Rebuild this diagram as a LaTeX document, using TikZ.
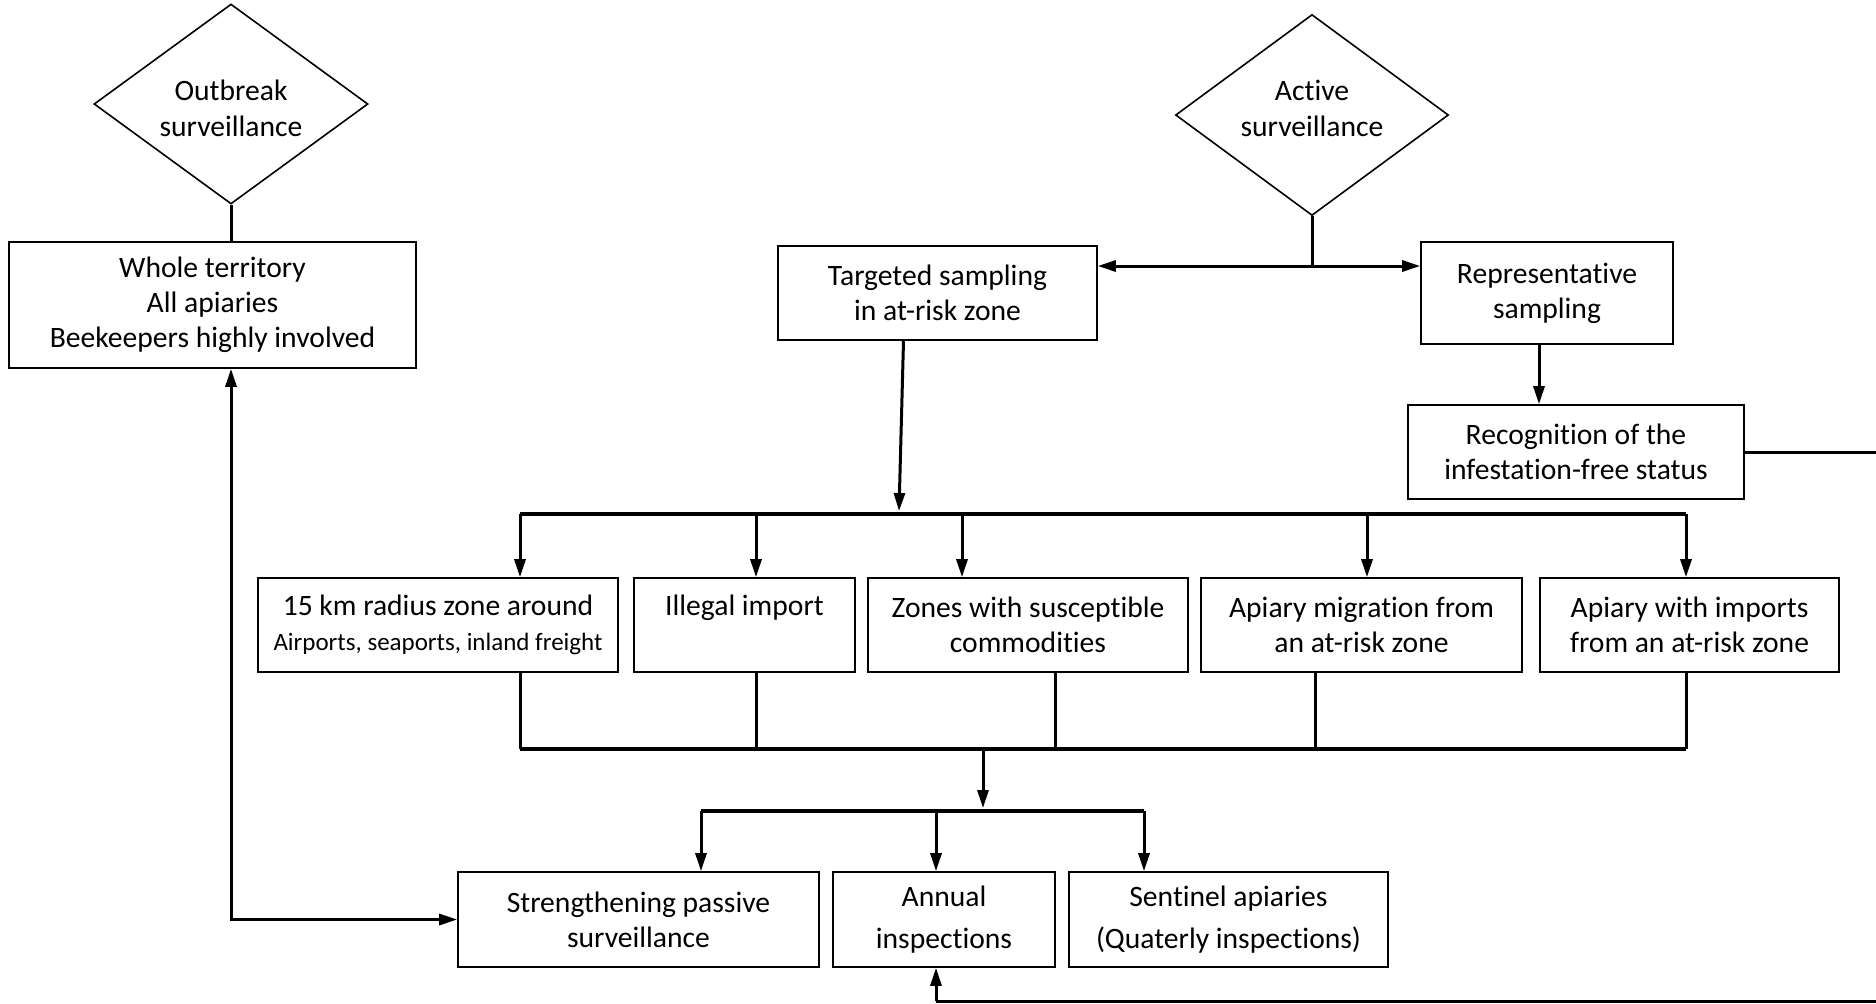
\documentclass[tikz,border=0pt]{standalone}
\usepackage{fontspec}
\setmainfont{Carlito}[Ligatures=NoCommon]
\usetikzlibrary{shapes.geometric,arrows.meta}
\begin{document}
\begin{tikzpicture}[x=0.5pt,y=-0.5pt,
  box/.style={draw,line width=0.8pt,inner sep=0pt,align=center,font=\fontsize{14.8}{17.5}\selectfont},
  dia/.style={draw,diamond,line width=0.8pt,inner sep=0pt},
  diatext/.style={align=center,font=\fontsize{14.8}{18}\selectfont,inner sep=0pt},
  conn/.style={line width=1.5pt},
  bar/.style={line width=2.3pt},
  tip/.tip={Triangle[length=9pt,width=5.5pt]},
  arr/.style={conn,-tip},
]
\useasboundingbox (0,0) rectangle (1876,1003);

% diamonds
\node[dia,minimum width=137pt,minimum height=100pt,
  label={[diatext,yshift=-2.2pt]center:Outbreak\\surveillance}] (outbreak) at (231,104) {};
\node[dia,minimum width=136.5pt,minimum height=100.5pt,
  label={[diatext,yshift=3.5pt]center:Active\\surveillance}] (active) at (1312,115) {};

% boxes
\node[box,minimum width=203.5pt,minimum height=63pt] (whole) at (212.5,305) {Whole territory\\All apiaries\\Beekeepers highly involved};
\node[box,minimum width=159.5pt,minimum height=47pt] (targeted) at (937.5,293) {Targeted sampling\\in at-risk zone};
\node[box,minimum width=126pt,minimum height=51pt] (repr) at (1547,293) {Representative\\sampling};
\node[box,minimum width=168pt,minimum height=47pt] (recog) at (1576,452) {Recognition of the\\infestation-free status};

\node[box,minimum width=180pt,minimum height=47pt] (b1) at (438,625) {15 km radius zone around\\{\fontsize{12.5}{17}\selectfont Airports, seaports, inland freight}};
\node[box,minimum width=110.5pt,minimum height=47pt] (b2) at (744.5,625) {Illegal import\\\phantom{Ig}};
\node[box,minimum width=160pt,minimum height=47pt] (b3) at (1028,625) {Zones with susceptible\\commodities};
\node[box,minimum width=160.5pt,minimum height=47pt] (b4) at (1361.5,625) {Apiary migration from\\an at-risk zone};
\node[box,minimum width=149.5pt,minimum height=47pt] (b5) at (1689.5,625) {Apiary with imports\\from an at-risk zone};

\node[box,minimum width=180.5pt,minimum height=47.5pt] (s1) at (638.5,919.5) {Strengthening passive\\surveillance};
\node[box,minimum width=111pt,minimum height=47.5pt,font=\fontsize{14.8}{21}\selectfont] (s2) at (944,919.5) {Annual\\inspections};
\node[box,minimum width=159.5pt,minimum height=47.5pt,font=\fontsize{14.8}{21}\selectfont] (s3) at (1228.5,919.5) {Sentinel apiaries\\(Quaterly inspections)};

% outbreak branch
\draw[conn] (outbreak.south) -- (outbreak.south |- whole.north);
\draw[conn,tip-tip] (outbreak.south |- whole.south) |- (s1.west);

% active branch
\coordinate (aj) at (1312,266);
\draw[conn] (active.south) -- (aj);
\draw[arr] (aj) -- (targeted.east |- aj);
\draw[arr] (aj) -- (repr.west |- aj);
\draw[arr] ([xshift=-4pt]repr.south) -- ([xshift=-4pt]repr.south |- recog.north);
\coordinate (rout) at (1876,452);
\draw[conn] (recog.east) -- (rout);

% first bar
\coordinate (t1) at (520,514);
\coordinate (t2) at (756,514);
\coordinate (t3) at (962,514);
\coordinate (t4) at (1367,514);
\coordinate (t5) at (1686,514);
\coordinate (tin) at (899,511);
\draw[arr] ([xshift=-17pt]targeted.south) -- (tin);
\draw[bar] (t1) -- (t5);
\draw[arr] (t1) -- (t1 |- b1.north);
\draw[arr] (t2) -- (t2 |- b2.north);
\draw[arr] (t3) -- (t3 |- b3.north);
\draw[arr] (t4) -- (t4 |- b4.north);
\draw[arr] (t5) -- (t5 |- b5.north);

% second bar
\coordinate (u1) at (520,749);
\coordinate (u2) at (756,749);
\coordinate (u3) at (1055,749);
\coordinate (u4) at (1315,749);
\coordinate (u5) at (1686,749);
\draw[conn] (u1 |- b1.south) -- (u1);
\draw[conn] (u2 |- b2.south) -- (u2);
\draw[conn] (u3 |- b3.south) -- (u3);
\draw[conn] (u4 |- b4.south) -- (u4);
\draw[conn] (u5 |- b5.south) -- (u5);
\draw[bar] (u1) -- (u5);

% third bar
\coordinate (m) at (983,749);
\coordinate (m2) at (983,808);
\coordinate (q1) at (701,811);
\coordinate (q2) at (936,811);
\coordinate (q3) at (1144,811);
\draw[arr] (m) -- (m2);
\draw[bar] (q1) -- (q3);
\draw[arr] (q1) -- (q1 |- s1.north);
\draw[arr] (q2) -- (q2 |- s2.north);
\draw[arr] (q3) -- (q3 |- s3.north);

% bottom return
\coordinate (br) at (1876,1001);
\coordinate (bl) at (936,1001);
\draw[conn] (br) -- (bl);
\draw[arr] (bl) -- (bl |- s2.south);
\end{tikzpicture}
\end{document}
